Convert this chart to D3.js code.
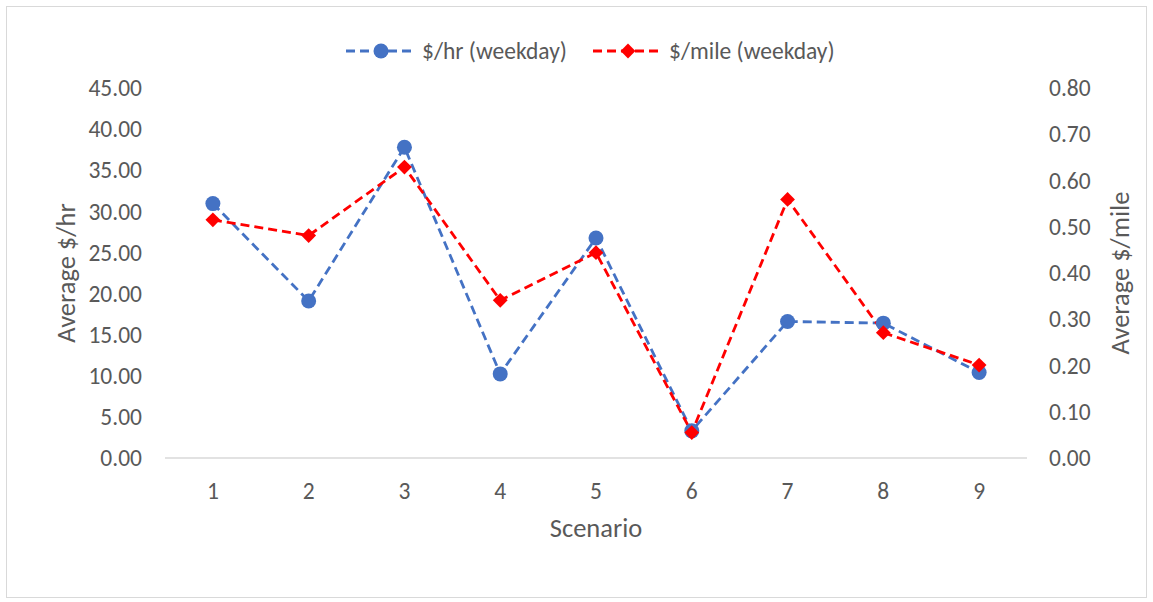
<!DOCTYPE html>
<html>
<head>
<meta charset="utf-8">
<script src="https://cdn.jsdelivr.net/npm/d3@7"></script>
<style>
body{margin:0;background:#fff;font-family:Calibri,Carlito,"Open Sans",sans-serif;}
</style>
</head>
<body>
<div id="chart"></div>
<script>
// data
const scenarios = ["1","2","3","4","5","6","7","8","9"];
const perHour = [30.94, 19.1, 37.8, 10.23, 26.76, 3.3, 16.6, 16.4, 10.4];
const perMile = [0.515, 0.481, 0.629, 0.341, 0.444, 0.055, 0.559, 0.271, 0.201];
const leftTicks = [0,5,10,15,20,25,30,35,40,45];
const rightTicks = [0,0.1,0.2,0.3,0.4,0.5,0.6,0.7,0.8];

const W = 1153, H = 602;
const plotL = 165, plotR = 1027, plotT = 88, plotB = 458;
const blue = "#4472C4", red = "#FF0000", txt = "#595959";

const svg = d3.select("#chart").append("svg")
    .attr("width", W).attr("height", H);

svg.append("rect")
    .attr("x", 6.5).attr("y", 6.5)
    .attr("width", W - 13).attr("height", H - 11)
    .attr("fill", "#fff").attr("stroke", "#d9d9d9");

const x = d3.scaleBand().domain(scenarios).range([plotL, plotR]);
const yL = d3.scaleLinear().domain([0,45]).range([plotB, plotT]);
const yR = d3.scaleLinear().domain([0,0.8]).range([plotB, plotT]);
const cx = d => x(d) + x.bandwidth()/2;

// axis line
svg.append("line")
    .attr("x1", plotL).attr("x2", plotR)
    .attr("y1", plotB).attr("y2", plotB)
    .attr("stroke", "#d9d9d9").attr("stroke-width", 1.3);

// tick labels
svg.selectAll(".lt").data(leftTicks).enter().append("text")
    .attr("x", 142).attr("y", d => yL(d)).attr("dy", "0.35em")
    .attr("text-anchor", "end").attr("fill", txt).style("font-size", "23.5px")
    .text(d => d.toFixed(2));

svg.selectAll(".rt").data(rightTicks).enter().append("text")
    .attr("x", 1049).attr("y", d => yR(d)).attr("dy", "0.35em")
    .attr("fill", txt).style("font-size", "23.5px")
    .text(d => d.toFixed(2));

svg.selectAll(".xt").data(scenarios).enter().append("text")
    .attr("x", d => cx(d)).attr("y", 491).attr("dy", "0.35em")
    .attr("text-anchor", "middle").attr("fill", txt).style("font-size", "23.5px")
    .text(d => d);

// axis titles
svg.append("text").attr("x", 596).attr("y", 528).attr("dy", "0.35em")
    .attr("text-anchor", "middle").attr("fill", txt).style("font-size", "26.5px")
    .text("Scenario");
svg.append("text").attr("transform", "translate(66,273) rotate(-90)")
    .attr("dy", "0.35em").attr("text-anchor", "middle").attr("fill", txt)
    .style("font-size", "26.5px").text("Average $/hr");
svg.append("text").attr("transform", "translate(1120,273) rotate(-90)")
    .attr("dy", "0.35em").attr("text-anchor", "middle").attr("fill", txt)
    .style("font-size", "26.5px").text("Average $/mile");

// lines
const lineL = d3.line().x((d,i) => cx(scenarios[i])).y(d => yL(d));
const lineR = d3.line().x((d,i) => cx(scenarios[i])).y(d => yR(d));

svg.append("path").attr("d", lineL(perHour))
    .attr("fill", "none").attr("stroke", blue)
    .attr("stroke-width", 2.8).attr("stroke-dasharray", "9,5");
svg.append("path").attr("d", lineR(perMile))
    .attr("fill", "none").attr("stroke", red)
    .attr("stroke-width", 2.8).attr("stroke-dasharray", "9,5");

// markers
svg.selectAll(".dot").data(perHour).enter().append("circle")
    .attr("cx", (d,i) => cx(scenarios[i])).attr("cy", d => yL(d))
    .attr("r", 7.5).attr("fill", blue);

const diamond = d3.symbol().type(d3.symbolDiamond2).size(140);
svg.selectAll(".dia").data(perMile).enter().append("path")
    .attr("d", diamond)
    .attr("transform", (d,i) => `translate(${cx(scenarios[i])},${yR(d)})`)
    .attr("fill", red);

// legend
const legend = [
    {name:"$/hr (weekday)", color:blue, x:346, shape:"circle"},
    {name:"$/mile (weekday)", color:red, x:593, shape:"diamond"}
];
legend.forEach(l => {
    const g = svg.append("g");
    g.append("line").attr("x1", l.x).attr("x2", l.x + 70)
        .attr("y1", 51).attr("y2", 51).attr("stroke", l.color)
        .attr("stroke-width", 2.8).attr("stroke-dasharray", "9,5");
    if (l.shape == "circle") {
        g.append("circle").attr("cx", l.x + 35).attr("cy", 51).attr("r", 7.5).attr("fill", l.color);
    } else {
        g.append("path").attr("d", diamond)
            .attr("transform", `translate(${l.x + 35},51)`).attr("fill", l.color);
    }
    g.append("text").attr("x", l.x + 76).attr("y", 51).attr("dy", "0.35em")
        .attr("fill", txt).style("font-size", "23.5px").text(l.name);
});
</script>
</body>
</html>
